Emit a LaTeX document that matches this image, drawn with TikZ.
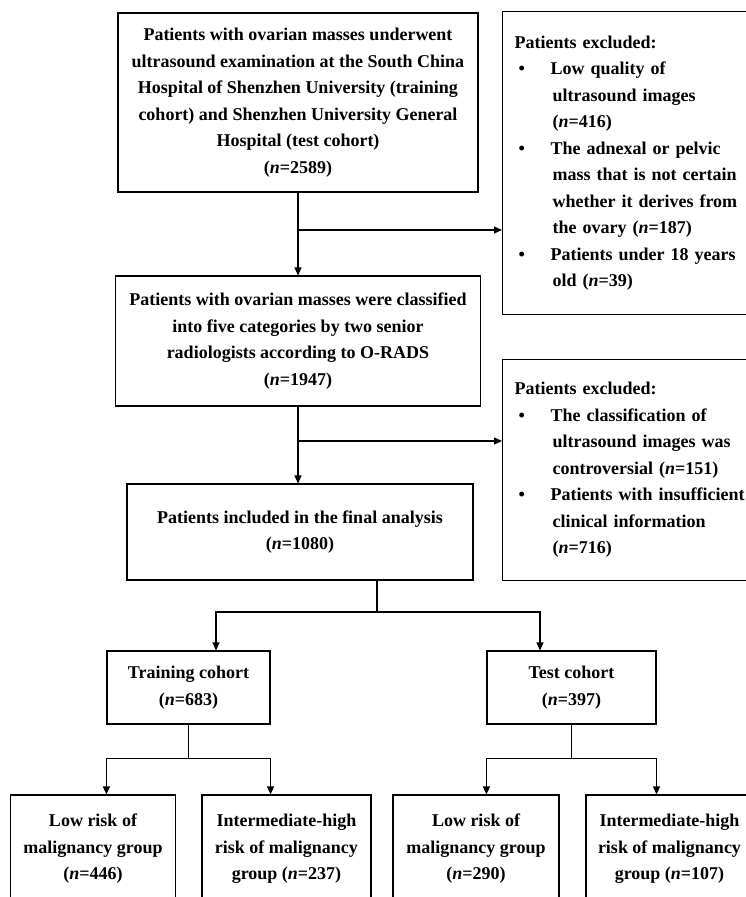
\documentclass[tikz,border=0pt]{standalone}
\usepackage{fontspec}
\setmainfont{Liberation Serif}
\usepackage{tikz}
\usetikzlibrary{arrows.meta}
\newcommand{\nsamp}{\textit{n}}
\newcommand{\bitem}{\makebox[36pt][l]{\hspace{4pt}\textbullet}}
\newcommand{\bcont}{\hspace*{38pt}}

\begin{document}
\begin{tikzpicture}[x=1pt,y=-1pt,
  box/.style={draw,line width=1.1pt,inner sep=0pt,align=center,font=\bfseries\fontsize{18}{26.5}\selectfont},
  note/.style={box,align=left,anchor=north west,inner xsep=12pt,text width=236pt},
  flow/.style={-{Triangle[length=8pt,width=7pt]},line width=1.1pt},
  link/.style={line width=1.1pt}
]
\useasboundingbox (0,0) rectangle (746,897);
\clip (0,0) rectangle (746,897);
\node[box,minimum width=360pt,minimum height=179pt] (source) at (298,102.5) {Patients with ovarian masses underwent\\ultrasound examination at the South China\\Hospital of Shenzhen University (training\\cohort) and Shenzhen University General\\Hospital (test cohort)\\(\nsamp=2589)};
\node[note,minimum height=303pt] (excl1) at (502,11) {Patients excluded:\\\bitem Low quality of\\\bcont ultrasound images\\\bcont (\nsamp=416)\\\bitem The adnexal or pelvic\\\bcont mass that is not certain\\\bcont whether it derives from\\\bcont the ovary (\nsamp=187)\\\bitem Patients under 18 years\\\bcont old (\nsamp=39)};
\node[box,minimum width=365pt,minimum height=130pt] (classify) at (298,341) {Patients with ovarian masses were classified\\into five categories by two senior\\radiologists according to O-RADS\\(\nsamp=1947)};
\node[note,minimum height=221pt] (excl2) at (502,359) {Patients excluded:\\\bitem The classification of\\\bcont ultrasound images was\\\bcont controversial (\nsamp=151)\\\bitem Patients with insufficient\\\bcont clinical information\\\bcont (\nsamp=716)};
\node[box,minimum width=346pt,minimum height=96pt] (final) at (300,532) {Patients included in the final analysis\\(\nsamp=1080)};
\node[box,minimum width=163pt,minimum height=73pt] (train) at (188.5,687.5) {Training cohort\\(\nsamp=683)};
\node[box,minimum width=169pt,minimum height=73pt] (test) at (571.5,687.5) {Test cohort\\(\nsamp=397)};
\node[box,minimum width=165pt,minimum height=108pt] (lowtrain) at (93,849) {Low risk of\\malignancy group\\(\nsamp=446)};
\node[box,minimum width=169pt,minimum height=108pt] (hightrain) at (286.5,849) {Intermediate-high\\risk of malignancy\\group (\nsamp=237)};
\node[box,minimum width=166pt,minimum height=108pt] (lowtest) at (476,849) {Low risk of\\malignancy group\\(\nsamp=290)};
\node[box,minimum width=167pt,minimum height=108pt] (hightest) at (669.5,849) {Intermediate-high\\risk of malignancy\\group (\nsamp=107)};
% exclusions branch off the main line
\coordinate (cut1) at (298,230);
\coordinate (cut2) at (298,441);
\draw[flow] (source.south) -- (source.south |- classify.north);
\draw[flow] (cut1) -- (cut1 -| excl1.west);
\draw[flow] (classify.south) -- (classify.south |- final.north);
\draw[flow] (cut2) -- (cut2 -| excl2.west);
% split into cohorts
\coordinate (fork) at (377,612);
\draw[link] (fork |- final.south) -- (fork);
\draw[flow] (fork) -| ([xshift=27.5pt]train.north);
\draw[flow] (fork) -| ([xshift=-31.5pt]test.north);
% split into risk groups
\draw[link] (train.south) -- ++(0,34) coordinate (trainfork);
\draw[flow] (trainfork) -| (train.west |- lowtrain.north);
\draw[flow] (trainfork) -| (train.east |- hightrain.north);
\draw[link] (test.south) -- ++(0,34) coordinate (testfork);
\draw[flow] (testfork) -| (test.west |- lowtest.north);
\draw[flow] (testfork) -| (test.east |- hightest.north);
\end{tikzpicture}
\end{document}
